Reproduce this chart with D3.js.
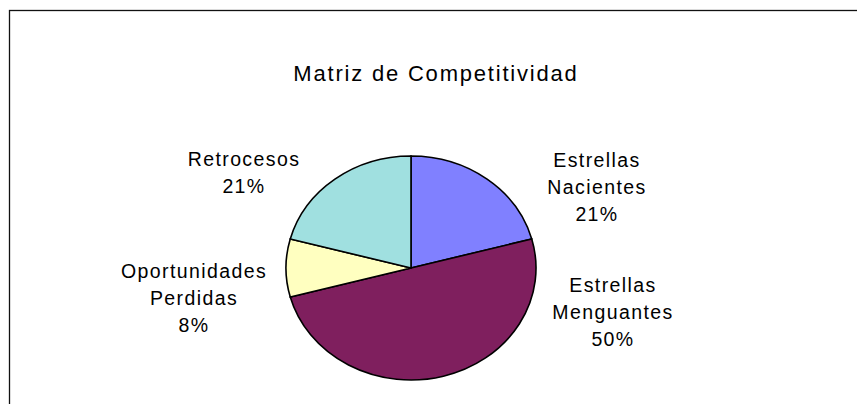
<!DOCTYPE html>
<html>
<head>
<meta charset="utf-8">
<script src="https://cdn.jsdelivr.net/npm/d3@7"></script>
<style>
  body { margin: 0; background: #fff; }
  text { font-family: Arial, "Liberation Sans", sans-serif; fill: #000; }
</style>
</head>
<body>
<svg></svg>
<script>
var width = 857;
var height = 404;

// data
var categories = ["Estrellas Nacientes", "Estrellas Menguantes", "Oportunidades Perdidas", "Retrocesos"];
var values = [5, 12, 2, 5];
var colors = ["#8080FF", "#7F1F5E", "#FFFFC0", "#A0E0E0"];

// layout
var cx = 411, cy = 268, rx = 125, ry = 112;
var lineH = 27;
// first-line anchor of each label, relative to pie centre
var labelAt = [[186, -101], [202, 24], [-217, 10], [-167, -102]];

var total = d3.sum(values);
var pct = d3.format(".0%");

var svg = d3.select("svg")
    .attr("width", width)
    .attr("height", height);

// chart frame (only top and left edges fall inside the picture)
svg.append("rect")
    .attr("x", 9.5)
    .attr("y", 10.5)
    .attr("width", 900)
    .attr("height", 500)
    .attr("fill", "none")
    .attr("stroke", "#111")
    .attr("stroke-width", 1.3);

// title
svg.append("text")
    .attr("x", 436)
    .attr("y", 81)
    .style("text-anchor", "middle")
    .style("font-size", "22px")
    .style("letter-spacing", "1.8px")
    .text("Matriz de Competitividad");

var pie = d3.pie().sort(null).value(d => d)(values);

var arc = d3.arc()
    .innerRadius(0)
    .outerRadius(1);

// unit pie, squashed into an ellipse
var g = svg.append("g")
    .attr("transform", "translate(" + cx + "," + cy + ") scale(" + rx + "," + ry + ")");

g.selectAll("path")
    .data(pie)
    .enter()
    .append("path")
        .attr("d", arc)
        .attr("fill", (d, i) => colors[i])
        .attr("stroke", "#000")
        .attr("stroke-width", 1.6)
        .attr("vector-effect", "non-scaling-stroke");

// labels
var labels = svg.selectAll("text.lbl")
    .data(pie)
    .enter()
    .append("text")
        .attr("class", "lbl")
        .attr("x", (d, i) => cx + labelAt[i][0])
        .attr("y", (d, i) => cy + labelAt[i][1])
        .style("text-anchor", "middle")
        .style("font-size", "19.5px")
        .style("letter-spacing", "1.4px");

labels.each(function(d, i) {
    var lines = categories[i].split(" ").concat([pct(d.value / total)]);
    d3.select(this).selectAll("tspan")
        .data(lines)
        .enter()
        .append("tspan")
            .attr("x", cx + labelAt[i][0])
            .attr("dy", (t, j) => j === 0 ? 0 : lineH)
            .text(t => t);
});
</script>
</body>
</html>
